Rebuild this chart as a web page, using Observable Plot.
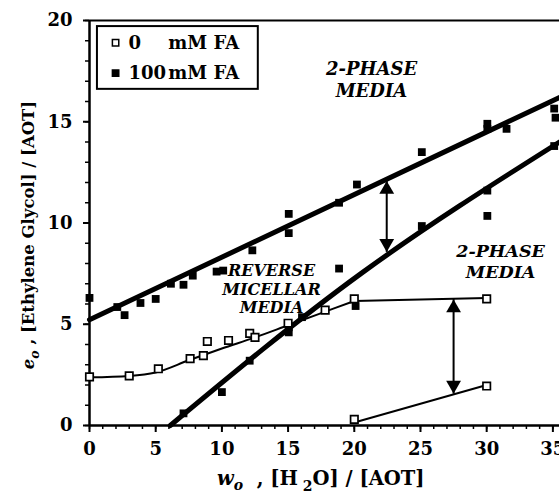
<!DOCTYPE html>
<html><head><meta charset="utf-8">
<script src="https://cdn.jsdelivr.net/npm/d3@7"></script>
<script src="https://cdn.jsdelivr.net/npm/@observablehq/plot@0.6"></script>
<style>
html,body{margin:0;padding:0;background:#fff;}
#chart{width:559px;height:493px;}
</style></head><body><div id="chart"></div>
<script>
// ---- data ----
const xTicks = [0, 5, 10, 15, 20, 25, 30, 35];
const yTicks = [0, 5, 10, 15, 20];

// 0 mM FA (open squares)
const fa0X = [0, 3, 5.2, 7.6, 8.6, 8.9, 10.5, 12.1, 12.5, 15, 17.8, 20, 30, 20, 30];
const fa0Y = [2.4, 2.45, 2.8, 3.3, 3.45, 4.15, 4.2, 4.55, 4.35, 5.05, 5.7, 6.25, 6.25, 0.3, 1.95];

// 100 mM FA (filled squares)
const fa100X = [0, 2.1, 2.65, 3.85, 5, 6.15, 7.1, 7.8, 9.6, 10.1, 12.3, 15.05, 15.05, 18.85, 20.2, 25.1, 30.05, 30.05, 31.5, 35.1, 35.2,
                7.1, 10.0, 12.1, 15.05, 15.05, 16.05, 18.85, 20.1, 25.1, 30.05, 30.05, 35.1];
const fa100Y = [6.3, 5.85, 5.45, 6.05, 6.25, 7.0, 6.95, 7.4, 7.6, 7.65, 8.65, 10.45, 9.5, 11.0, 11.9, 13.5, 14.9, 14.65, 14.65, 15.65, 15.2,
                0.6, 1.65, 3.2, 4.85, 4.6, 5.35, 7.75, 5.9, 9.85, 11.6, 10.35, 13.8];

// fitted guide lines
const upperFitX = [0, 35.5];
const upperFitY = [5.22, 16.2];
const lowerFitX = [6.1, 20.5, 35.5];
const lowerFitY = [0, 7.5, 14.0];
const curve0X = [0, 3, 5, 7.5, 10, 12.5, 15, 17.5, 20];
const curve0Y = [2.38, 2.45, 2.62, 3.22, 3.8, 4.35, 4.95, 5.55, 6.15];
const flat0X = [20, 30];
const flat0Y = [6.15, 6.3];
const low0X = [20, 30];
const low0Y = [0.15, 2.0];

// double arrows
const arrowX = [22.45, 27.5];
const arrowTop = [12.1, 6.25];
const arrowBottom = [8.55, 1.55];

// annotations
const noteText = ["2-PHASE\nMEDIA", "REVERSE\nMICELLAR\nMEDIA", "2-PHASE\nMEDIA"];
const noteX = [21.3, 13.75, 31.05];
const noteY = [17.1, 6.75, 8.15];
const noteSize = [18, 16, 17.5];
const noteLine = [1.2, 1.15, 1.2];

// legend
const legendLabels = ["0", "100"];
const legendUnit = "mM FA";

// ---- build ----
const pts = (xs, ys) => xs.map((x, i) => ({x, y: ys[i]}));
const open = pts(fa0X, fa0Y);
const filled = pts(fa100X, fa100Y);
const arrows = arrowX.map((x, i) => ({x, y1: arrowTop[i], y2: arrowBottom[i]}));
const notes = noteText.map((t, i) => ({t, x: noteX[i], y: noteY[i], s: noteSize[i], lh: noteLine[i]}));

const legendRows = legendLabels.map((l, i) => ({label: l, y: [18.9, 17.4][i], filled: i === 1}));

const noteMarks = notes.map(n =>
  Plot.text([n], {x: "x", y: "y", text: "t", fontSize: n.s, fontStyle: "italic", fontWeight: "bold",
                  lineAnchor: "middle", lineHeight: n.lh, fill: "black"}));

const plot = Plot.plot({
  width: 559,
  height: 493,
  marginLeft: 89,
  marginRight: 0,
  marginTop: 20,
  marginBottom: 68,
  x: {domain: [0, 35.5]},
  y: {domain: [0, 20]},
  style: {fontFamily: "DejaVu Serif", fontWeight: "bold", fontSize: "18px", color: "black", background: "white"},
  marks: [
    Plot.axisX(d3.range(0, 36, 1), {tickSize: 4, tickFormat: () => "", strokeWidth: 1.5}),
    Plot.axisX(xTicks, {tickSize: 7, tickPadding: 10, strokeWidth: 2, fontSize: 18, label: null}),
    Plot.axisY(d3.range(0, 21, 1), {tickSize: 4, tickFormat: () => "", strokeWidth: 1.5}),
    Plot.axisY(yTicks, {tickSize: 6, tickPadding: 11, strokeWidth: 2, fontSize: 18, label: null}),
    Plot.ruleX([0], {strokeWidth: 2.5}),
    Plot.ruleY([0], {strokeWidth: 2.5}),
    Plot.ruleY([20], {strokeWidth: 2}),
    // fit lines
    Plot.line(pts(upperFitX, upperFitY), {x: "x", y: "y", strokeWidth: 5}),
    Plot.line(pts(lowerFitX, lowerFitY), {x: "x", y: "y", strokeWidth: 5, curve: "natural"}),
    Plot.line(pts(curve0X, curve0Y), {x: "x", y: "y", strokeWidth: 2, curve: "monotone-x"}),
    Plot.line(pts(flat0X, flat0Y), {x: "x", y: "y", strokeWidth: 2}),
    Plot.line(pts(low0X, low0Y), {x: "x", y: "y", strokeWidth: 2}),
    // arrows
    Plot.ruleX(arrows, {x: "x", y1: "y1", y2: "y2", strokeWidth: 2}),
    Plot.dot(arrows, {x: "x", y: "y1", symbol: "triangle", r: 5.5, fill: "black", stroke: "none", dy: 9}),
    Plot.dot(arrows, {x: "x", y: "y2", symbol: "triangle", r: 5.5, fill: "black", stroke: "none", dy: -9, rotate: 180}),
    // data points
    Plot.dot(filled, {x: "x", y: "y", symbol: "square", r: 4.4, fill: "black", stroke: "none"}),
    Plot.dot(open, {x: "x", y: "y", symbol: "square", r: 4.2, fill: "white", stroke: "black", strokeWidth: 1.7}),
    // annotations
    ...noteMarks,
    // legend
    Plot.rect([{x1: 0.6, x2: 12.75, y1: 16.6, y2: 19.7}], {x1: "x1", x2: "x2", y1: "y1", y2: "y2", fill: "white", stroke: "black", strokeWidth: 2}),
    Plot.dot(legendRows, {x: 1.97, y: "y", symbol: "square", r: 3.6, fill: d => d.filled ? "black" : "white", stroke: "black", strokeWidth: 1.5}),
    Plot.text(legendRows, {x: 2.95, y: "y", text: "label", textAnchor: "start", fontSize: 18}),
    Plot.text(legendRows, {x: 5.95, y: "y", text: () => legendUnit, textAnchor: "start", fontSize: 18})
  ]
});

document.getElementById("chart").appendChild(plot);

// axis titles with sub-scripts
const svg = d3.select(plot);
const fontAttrs = (sel, size) => sel.attr("font-family", "DejaVu Serif").attr("font-weight", "bold").attr("font-size", size).attr("fill", "black");

const xt = svg.append("text").attr("x", 217).attr("y", 485).attr("text-anchor", "start").call(fontAttrs, 19.5);
xt.append("tspan").attr("font-style", "italic").text("w");
xt.append("tspan").attr("font-style", "italic").attr("font-size", 14).attr("dy", 5).text("o");
xt.append("tspan").attr("dy", -5).text("\u00a0\u00a0, [H");
xt.append("tspan").attr("font-size", 14).attr("dy", 6).text("\u00a02");
xt.append("tspan").attr("dy", -6).text("O] / [AOT]");

const yt = svg.append("text").attr("transform", "translate(34,235) rotate(-90)").attr("text-anchor", "middle").call(fontAttrs, 16.5);
yt.append("tspan").attr("font-style", "italic").text("e");
yt.append("tspan").attr("font-style", "italic").attr("font-size", 12.5).attr("dy", 5).text("o");
yt.append("tspan").attr("dy", -5).text("\u00a0, [Ethylene Glycol] / [AOT]");
</script>
</body></html>
